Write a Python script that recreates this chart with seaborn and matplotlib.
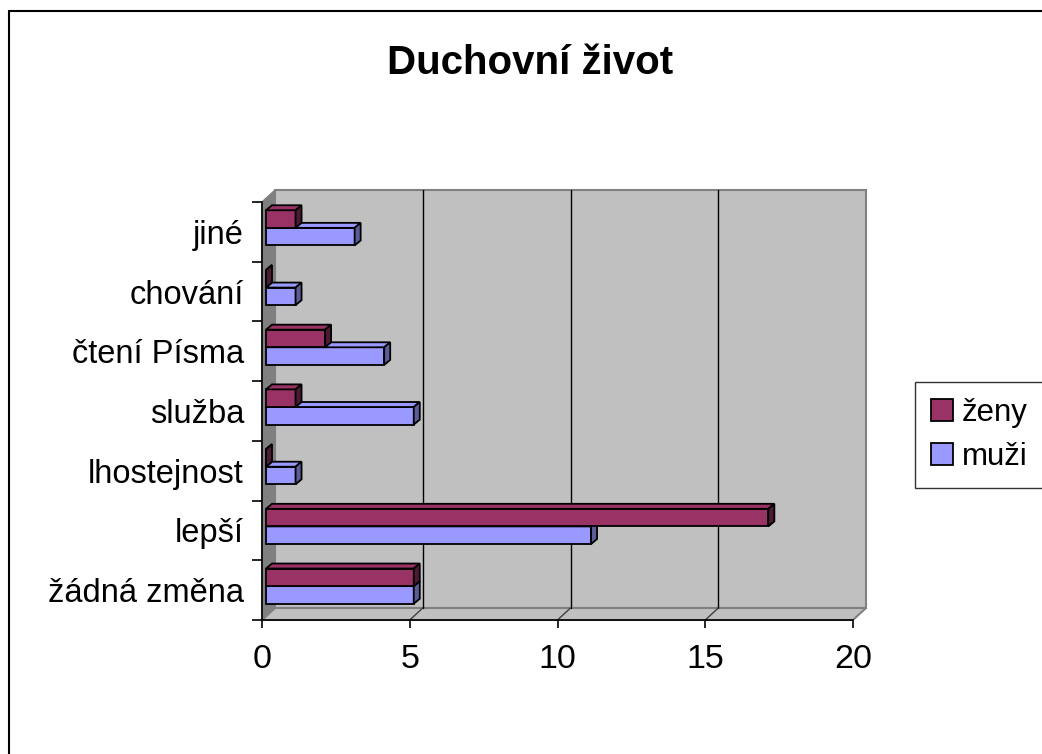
import matplotlib
matplotlib.use("Agg")
import numpy as np
import pandas as pd
import matplotlib.pyplot as plt
import seaborn as sns
from matplotlib.patches import Polygon, Rectangle
from matplotlib.lines import Line2D

# data (top to bottom as drawn)
categories = ["jiné", "chování", "čtení Písma", "služba", "lhostejnost", "lepší", "žádná změna"]
zeny = [1, 0, 2, 1, 0, 17, 5]
muzi = [3, 1, 4, 5, 1, 11, 5]
series = ["ženy", "muži"]
x_ticks = [0, 5, 10, 15, 20]

front = {"ženy": "#993366", "muži": "#9999FF"}
side = {"ženy": "#4d1a33", "muži": "#5c5c99"}

df = pd.DataFrame({
    "kategorie": categories * 2,
    "pohlaví": ["ženy"] * len(categories) + ["muži"] * len(categories),
    "počet": zeny + muzi,
})

sns.set_style("white")
plt.rcParams["font.family"] = ["Liberation Sans", "DejaVu Sans"]
plt.rcParams.update({"text.color": "black", "xtick.color": "black",
                     "ytick.color": "black", "axes.labelcolor": "black"})

W, H = 1042, 754
fig = plt.figure(figsize=(W / 100, H / 100), dpi=100)
# front plane of the pseudo-3D plot area, in pixels
L, R, T, B = 262, 853, 202, 620
ax = fig.add_axes([L / W, 1 - B / H, (R - L) / W, (B - T) / H])

n = len(categories)
xmax = x_ticks[-1]
px_x = xmax / (R - L)          # data units per pixel
px_y = n / (B - T)
wdx, wdy = 13 * px_x, 12 * px_y  # wall depth
bdx, bdy = 6 * px_x, 5 * px_y    # bar depth
ox, oy = 4 * px_x, 4 * px_y      # bar offset into the depth

ytop, ybot = -0.5, n - 0.5

# walls
ax.add_patch(Rectangle((wdx, ytop - wdy), xmax, n, facecolor="#C0C0C0",
                       edgecolor="#808080", lw=1.5, zorder=0, clip_on=False))
ax.add_patch(Polygon([(0, ybot), (0, ytop), (wdx, ytop - wdy), (wdx, ybot - wdy)],
                     closed=True, facecolor="#808080", edgecolor="#808080",
                     zorder=0.5, clip_on=False))
ax.add_patch(Polygon([(0, ybot), (xmax, ybot), (xmax + wdx, ybot - wdy), (wdx, ybot - wdy)],
                     closed=True, facecolor="#C0C0C0", edgecolor="#808080", lw=1.5,
                     zorder=0.6, clip_on=False))
for v in x_ticks[1:-1]:
    ax.plot([v + wdx, v + wdx], [ytop - wdy, ybot - wdy], color="black", lw=1,
            zorder=0.7, clip_on=False)
    ax.plot([v, v + wdx], [ybot, ybot - wdy], color="#404040", lw=1,
            zorder=0.7, clip_on=False)

sns.barplot(data=df, x="počet", y="kategorie", hue="pohlaví", hue_order=series,
            order=categories, palette=front, width=0.59, orient="h",
            edgecolor="black", linewidth=1.3, saturation=1, ax=ax, legend=True)

zo = {"ženy": 4, "muži": 3}
for cont, name in zip(ax.containers, series):
    for p in cont.patches:
        p.set_x(p.get_x() + ox)
        p.set_y(p.get_y() - oy)
        p.set_zorder(zo[name])
        p.set_clip_on(False)
        x0 = p.get_x()
        x1 = x0 + p.get_width()
        y0 = p.get_y()
        h = p.get_height()
        ax.add_patch(Polygon([(x0, y0), (x1, y0), (x1 + bdx, y0 - bdy), (x0 + bdx, y0 - bdy)],
                             closed=True, facecolor=front[name], edgecolor="black",
                             lw=1.3, zorder=zo[name], clip_on=False))
        ax.add_patch(Polygon([(x1, y0), (x1, y0 + h), (x1 + bdx, y0 + h - bdy), (x1 + bdx, y0 - bdy)],
                             closed=True, facecolor=side[name], edgecolor="black",
                             lw=1.3, zorder=zo[name], clip_on=False))

ax.set_xlim(0, xmax)
ax.set_ylim(ybot, ytop)
ax.set_xticks(x_ticks)
ax.set_yticks(range(n))
ax.set_yticks(np.arange(n + 1) - 0.5, minor=True)
ax.set_xlabel("")
ax.set_ylabel("")
ax.set_facecolor("none")
for s in ["top", "right"]:
    ax.spines[s].set_visible(False)
for s in ["left", "bottom"]:
    ax.spines[s].set_color("black")
    ax.spines[s].set_linewidth(1.2)
    ax.spines[s].set_zorder(5)
ax.tick_params(axis="y", which="major", length=0, pad=13, labelsize=23.5)
ax.tick_params(axis="y", which="minor", left=True, length=7, width=1.2, color="black")
ax.tick_params(axis="x", which="major", bottom=True, length=6, width=1.2,
               color="black", pad=11, labelsize=24.5)

handles, labels = ax.get_legend_handles_labels()
ax.legend(handles, labels, loc="center left", bbox_to_anchor=(915 / W, 1 - 435 / H),
          bbox_transform=fig.transFigure, frameon=True, fancybox=False,
          edgecolor="black", fontsize=22.5, handlelength=0.7, handleheight=0.7,
          handletextpad=0.3, labelspacing=0.45, borderpad=0.5, borderaxespad=0)
ax.get_legend().get_frame().set_linewidth(1.0)

fig.text(530 / W, 1 - 63 / H, "Duchovní život", ha="center", va="center",
         fontsize=29, fontweight="bold")

# chart area border
fig.add_artist(Line2D([9 / W, 9 / W], [0, 1 - 11 / H], color="black", lw=1.5,
                      transform=fig.transFigure))
fig.add_artist(Line2D([9 / W, 1], [1 - 11 / H, 1 - 11 / H], color="black", lw=1.5,
                      transform=fig.transFigure))

fig.savefig("out.png", dpi=100)
